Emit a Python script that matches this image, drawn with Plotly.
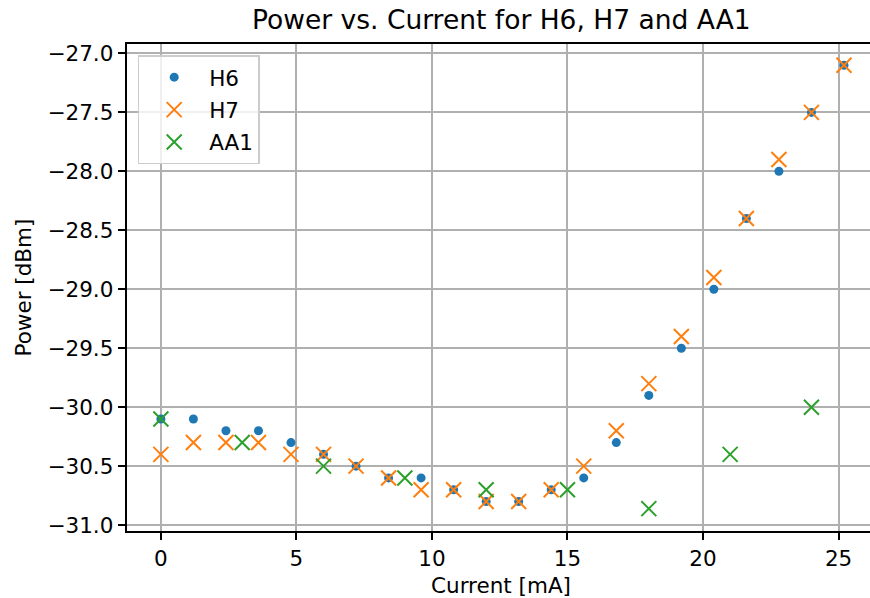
import plotly.graph_objects as go

# Data
h6_current = [0, 1.2, 2.4, 3.6, 4.8, 6.0, 7.2, 8.4, 9.6, 10.8, 12.0, 13.2, 14.4, 15.6,
              16.8, 18.0, 19.2, 20.4, 21.6, 22.8, 24.0, 25.2]
h6_power = [-30.1, -30.1, -30.2, -30.2, -30.3, -30.4, -30.5, -30.6, -30.6, -30.7, -30.8, -30.8,
            -30.7, -30.6, -30.3, -29.9, -29.5, -29.0, -28.4, -28.0, -27.5, -27.1]
h7_current = [0, 1.2, 2.4, 3.6, 4.8, 6.0, 7.2, 8.4, 9.6, 10.8, 12.0, 13.2, 14.4, 15.6,
              16.8, 18.0, 19.2, 20.4, 21.6, 22.8, 24.0, 25.2]
h7_power = [-30.4, -30.3, -30.3, -30.3, -30.4, -30.4, -30.5, -30.6, -30.7, -30.7, -30.8, -30.8,
            -30.7, -30.5, -30.2, -29.8, -29.4, -28.9, -28.4, -27.9, -27.5, -27.1]
aa1_current = [0, 3, 6, 9, 12, 15, 18, 21, 24]
aa1_power = [-30.1, -30.3, -30.5, -30.6, -30.7, -30.7, -30.86, -30.4, -30.0]

x_tickvals = [0, 5, 10, 15, 20, 25]
x_ticktext = ["0", "5", "10", "15", "20", "25"]
y_tickvals = [-27.0, -27.5, -28.0, -28.5, -29.0, -29.5, -30.0, -30.5, -31.0]
y_ticktext = ["\u221227.0", "\u221227.5", "\u221228.0", "\u221228.5", "\u221229.0",
              "\u221229.5", "\u221230.0", "\u221230.5", "\u221231.0"]

FONT = "DejaVu Sans"
TICK_SIZE = 21.5
TITLE_SIZE = 26.5

fig = go.Figure()
fig.add_trace(go.Scatter(x=h6_current, y=h6_power, mode="markers", name="H6",
                         legendgroup="a",
                         marker=dict(symbol="circle", size=9, color="#1f77b4", line=dict(width=0))))
fig.add_trace(go.Scatter(x=h7_current, y=h7_power, mode="markers", name="H7",
                         legendgroup="b",
                         marker=dict(symbol="x-thin", size=15, color="#ff7f0e",
                                     line=dict(width=2, color="#ff7f0e"))))
fig.add_trace(go.Scatter(x=aa1_current, y=aa1_power, mode="markers", name="AA1",
                         legendgroup="c",
                         marker=dict(symbol="x-thin", size=15, color="#2ca02c",
                                     line=dict(width=2, color="#2ca02c"))))

axis_common = dict(showgrid=True, gridcolor="#b0b0b0", gridwidth=1.7,
                   showline=True, linecolor="black", linewidth=1.7,
                   ticks="outside", ticklen=7.5, tickwidth=1.7, tickcolor="black",
                   zeroline=False, tickfont=dict(family=FONT, size=TICK_SIZE, color="black"))

fig.update_xaxes(range=[-1.25, 26.16], tickvals=x_tickvals, ticktext=x_ticktext,
                 mirror=True, **axis_common)
fig.update_yaxes(range=[-31.05, -26.92], tickvals=y_tickvals, ticktext=y_ticktext,
                 mirror=False, **axis_common)

fig.update_layout(
    width=870, height=598,
    margin=dict(l=127, r=0, t=44, b=67, pad=0),
    paper_bgcolor="white", plot_bgcolor="white",
    font=dict(family=FONT, color="black"),
    showlegend=True,
    legend=dict(x=0.0144, y=0.977, xanchor="left", yanchor="top",
                bgcolor="rgba(255,255,255,0.8)", bordercolor="#cccccc", borderwidth=1.5,
                font=dict(family=FONT, size=TICK_SIZE, color="black"),
                itemwidth=60, tracegroupgap=1.5),
    annotations=[
        dict(text="Power vs. Current for H6, H7 and AA1", xref="paper", yref="paper",
             x=(501.5 - 127) / 743, y=1 + 24 / 487, xanchor="center", yanchor="middle",
             showarrow=False, font=dict(family=FONT, size=TITLE_SIZE, color="black")),
        dict(text="Current [mA]", xref="paper", yref="paper",
             x=(501.5 - 127) / 743, y=-54 / 487, xanchor="center", yanchor="middle",
             showarrow=False, font=dict(family=FONT, size=TICK_SIZE, color="black")),
        dict(text="Power [dBm]", xref="paper", yref="paper", textangle=-90,
             x=-104 / 743, y=0.5, xanchor="center", yanchor="middle", showarrow=False,
             font=dict(family=FONT, size=TICK_SIZE, color="black")),
    ],
)

fig.write_html("out.html", config={"displayModeBar": False},
               post_script="document.body.style.margin='0';")
